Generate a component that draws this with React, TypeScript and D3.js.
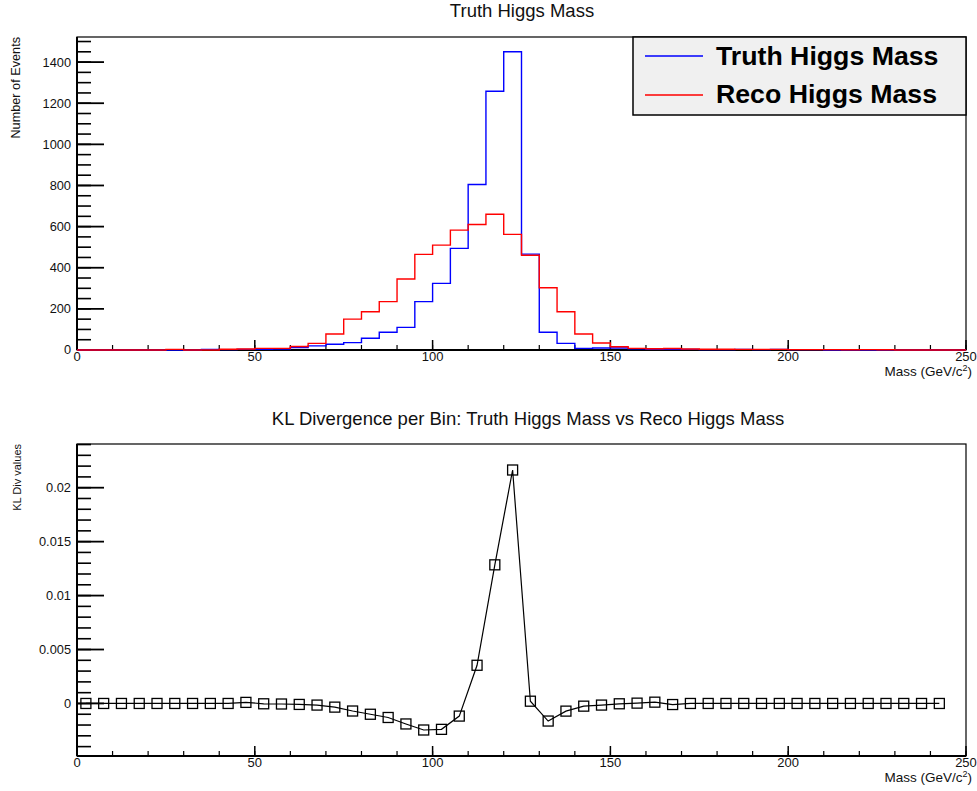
import * as React from 'react';
import * as d3 from 'd3';

// bin low edges are 0,5,...,245 (50 bins of 5 GeV)
const binWidth = 5;
const truthCounts = [
  0, 0, 0, 0, 0, 0, 0, 3, 2, 3,
  4, 5, 12, 20, 28, 36, 57, 86, 110, 235,
  324, 494, 805, 1258, 1450, 466, 86, 32, 8, 10,
  10, 6, 4, 3, 3, 2, 2, 3, 2, 3,
  2, 2, 0, 0, 0, 0, 0, 0, 0, 0
];
const recoCounts = [
  0, 0, 0, 0, 0, 3, 0, 0, 4, 5,
  8, 8, 17, 32, 78, 150, 186, 235, 345, 465,
  510, 583, 610, 660, 562, 461, 303, 186, 78, 34,
  16, 8, 6, 7, 5, 4, 4, 3, 3, 3,
  2, 2, 2, 1, 2, 1, 0, 0, 0, 0
];
// KL divergence per bin, at bin centres 2.5 ... 242.5
const klValues = [
  0, 0, 0, 0, 0, 0, 0, 0, 0, 0.0001,
  -0.00003, -0.00005, -0.00009, -0.00015, -0.00034, -0.0007, -0.001, -0.0013, -0.0019, -0.00246,
  -0.0024, -0.00117, 0.00354, 0.01285, 0.02164, 0.00021, -0.00163, -0.00071, -0.00025, -0.00015,
  -0.00003, 0.00003, 0.00012, -0.0001, 0, 0, 0, 0, 0, 0,
  0, 0, 0, 0, 0, 0, 0, 0, 0
];
const xMajor = [0, 50, 100, 150, 200, 250];
const topYMajor = [0, 200, 400, 600, 800, 1000, 1200, 1400];
const botYMajor = [0, 0.005, 0.01, 0.015, 0.02];
const botYLabels = ['0', '0.005', '0.01', '0.015', '0.02'];
const legendItems = [
  { label: 'Truth Higgs Mass', color: '#0000ff' },
  { label: 'Reco Higgs Mass', color: '#ff0000' }
];

const W = 977;
const H = 791;
const font = '"Liberation Sans", Arial, Helvetica, sans-serif';
const left = 77;
const right = 966;

function XAxis({ x, yPix }: { x: d3.ScaleLinear<number, number>; yPix: number }) {
  const minor = d3.range(0, 251, 10);
  return (
    <g>
      {minor.map(v => (
        <line key={'m' + v} x1={x(v)} x2={x(v)} y1={yPix} y2={yPix - 5} stroke="#000" strokeWidth={1.2} />
      ))}
      {xMajor.map(v => (
        <line key={'M' + v} x1={x(v)} x2={x(v)} y1={yPix} y2={yPix - 10} stroke="#000" strokeWidth={1.5} />
      ))}
      {xMajor.map(v => (
        <text key={'t' + v} x={x(v)} y={yPix + 11} fontSize={13} textAnchor="middle" fill="#111">
          {v}
        </text>
      ))}
      <line x1={left} x2={right} y1={yPix} y2={yPix} stroke="#000" strokeWidth={2} />
      <text x={972} y={yPix + 26} fontSize={13.5} textAnchor="end" fill="#111">
        Mass (GeV/c<tspan dy={-5} fontSize={9}>2</tspan>
        <tspan dy={5}>)</tspan>
      </text>
    </g>
  );
}

function YAxis({
  y,
  major,
  labels,
  minor
}: {
  y: d3.ScaleLinear<number, number>;
  major: number[];
  labels: string[];
  minor: number[];
}) {
  const [y0, y1] = y.range();
  return (
    <g>
      {minor.map((v, i) => (
        <line key={'m' + i} x1={left} x2={left + 14} y1={y(v)} y2={y(v)} stroke="#000" strokeWidth={1.6} />
      ))}
      {major.map((v, i) => (
        <line key={'M' + i} x1={left} x2={left + 27} y1={y(v)} y2={y(v)} stroke="#000" strokeWidth={1.8} />
      ))}
      {major.map((v, i) => (
        <text key={'t' + i} x={71} y={y(v)} dy="0.35em" fontSize={12.8} textAnchor="end" fill="#111">
          {labels[i]}
        </text>
      ))}
      <line x1={left} x2={left} y1={y0} y2={y1} stroke="#000" strokeWidth={2} />
    </g>
  );
}

export default function App() {
  const x = d3.scaleLinear().domain([0, 250]).range([left, right]);
  const yTop = d3.scaleLinear().domain([0, 1522]).range([350, 37]);
  const yBot = d3.scaleLinear().domain([-0.00487, 0.02405]).range([756, 444]);

  const stepLine = d3
    .line<[number, number]>()
    .x(d => x(d[0]))
    .y(d => yTop(d[1]))
    .curve(d3.curveStepAfter);
  const histPts = (counts: number[]) => {
    const pts: [number, number][] = counts.map((c, i) => [i * binWidth, c]);
    pts.push([counts.length * binWidth, counts[counts.length - 1]]);
    return pts;
  };

  const klPts: [number, number][] = klValues.map((v, i) => [i * binWidth + binWidth / 2, v]);
  const klLine = d3
    .line<[number, number]>()
    .x(d => x(d[0]))
    .y(d => yBot(d[1]));

  return (
    <svg
      width={W}
      height={H}
      style={{ position: 'absolute', left: 0, top: 0, background: '#fff' }}
      fontFamily={font}
    >
      <rect x={0} y={0} width={W} height={H} fill="#fff" />

      {/* top pad */}
      <text x={522} y={17} fontSize={18.5} textAnchor="middle" fill="#111">
        Truth Higgs Mass
      </text>
      <rect x={left} y={37} width={right - left} height={313} fill="none" stroke="#000" strokeWidth={1.2} />
      <YAxis
        y={yTop}
        major={topYMajor}
        labels={topYMajor.map(String)}
        minor={d3.range(0, 1521, 50)}
      />
      <text transform="translate(19.5,37) rotate(-90)" fontSize={12.7} textAnchor="end" fill="#111">
        Number of Events
      </text>
      <XAxis x={x} yPix={350} />
      <path d={stepLine(histPts(truthCounts)) || ''} fill="none" stroke="#0000ff" strokeWidth={1.4} />
      <path d={stepLine(histPts(recoCounts)) || ''} fill="none" stroke="#ff0000" strokeWidth={1.4} />

      {/* legend */}
      <rect x={633} y={37} width={333} height={78} fill="#f0f0f0" stroke="#000" strokeWidth={1.5} />
      {legendItems.map((d, i) => (
        <g key={d.label}>
          <line x1={645} x2={703} y1={56 + i * 39} y2={56 + i * 39} stroke={d.color} strokeWidth={1.4} />
          <text x={716} y={65 + i * 38} fontSize={26.7} fontWeight="bold" fill="#000">
            {d.label}
          </text>
        </g>
      ))}

      {/* bottom pad */}
      <text x={528} y={425} fontSize={18.5} textAnchor="middle" fill="#111">
        KL Divergence per Bin: Truth Higgs Mass vs Reco Higgs Mass
      </text>
      <rect x={left} y={444} width={right - left} height={312} fill="none" stroke="#000" strokeWidth={1.2} />
      <YAxis
        y={yBot}
        major={botYMajor}
        labels={botYLabels}
        minor={d3.range(-4, 25).map(k => k / 1000)}
      />
      <text transform="translate(20.5,444) rotate(-90)" fontSize={11} textAnchor="end" fill="#111">
        KL Div values
      </text>
      <XAxis x={x} yPix={756} />
      <path d={klLine(klPts) || ''} fill="none" stroke="#000" strokeWidth={1.2} />
      {klPts.map((d, i) => (
        <rect
          key={i}
          x={x(d[0]) - 5}
          y={yBot(d[1]) - 5}
          width={10}
          height={10}
          fill="none"
          stroke="#000"
          strokeWidth={1.3}
        />
      ))}
    </svg>
  );
}
